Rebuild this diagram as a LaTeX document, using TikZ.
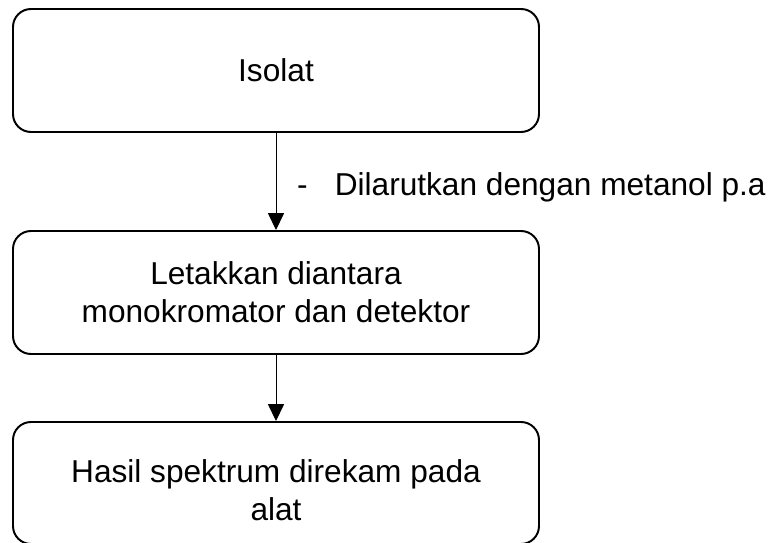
\documentclass[tikz,border=0pt]{standalone}
\usepackage{fontspec}
\setmainfont{Liberation Sans}
\usetikzlibrary{positioning,arrows.meta}

\begin{document}
\begin{tikzpicture}[
      box/.style={draw,line width=1.4pt,rounded corners=0.45cm,minimum width=13.15cm,align=center,font=\fontsize{22.5}{27}\selectfont},
      arr/.style={-{Triangle[width=0.4cm,length=0.42cm]},line width=0.7pt}]
    \useasboundingbox (0,0) rectangle (19.375,13.575);
    \node[box,minimum height=3.075cm] (iso) at (6.9,11.8125) {Isolat};
    \node[box,minimum height=3.075cm] (let) at (6.9,6.2625) {Letakkan diantara\\monokromator dan detektor};
    \node[box,minimum height=3.05cm] (has) at (6.9,1.5) {\rule{0pt}{0.95cm}Hasil spektrum direkam pada\\alat};
    \node[anchor=west,inner sep=0pt,font=\fontsize{22.5}{27}\selectfont] (lbl) at (7.42,8.88) {-\hspace{0.68cm}Dilarutkan dengan metanol p.a};
    \draw[arr] (iso) -- (let);
    \draw[arr] (let) -- (has);
  \end{tikzpicture}
\end{document}
